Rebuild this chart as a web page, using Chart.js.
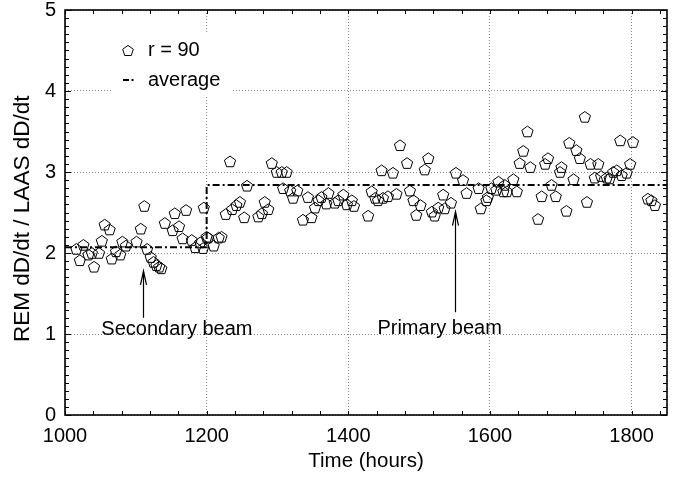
<!DOCTYPE html>
<html>
<head>
<meta charset="utf-8">
<script src="https://cdn.jsdelivr.net/npm/chart.js@4.4.1/dist/chart.umd.min.js"></script>
<style>
  html, body { margin: 0; padding: 0; background: #fff; }
  #wrap { width: 679px; height: 478px; }
</style>
</head>
<body>
<div id="wrap"><canvas id="chart" width="679" height="478"></canvas></div>
<script>
// measured points (time in hours, ratio REM / LAAS)
const timeHours = [
  1016, 1021, 1026, 1033, 1038, 1041, 1048, 1052, 1056, 1063, 1066, 1072, 1078, 1081, 1086,
  1101, 1107, 1112, 1116, 1121, 1125, 1129, 1133, 1136, 1141, 1152, 1155, 1161, 1166, 1171,
  1179, 1184, 1191, 1195, 1196, 1200, 1202, 1210, 1217, 1221, 1227, 1233, 1236, 1242, 1247,
  1253, 1257, 1273, 1278, 1282, 1287, 1292, 1299, 1306, 1313, 1308, 1318, 1322, 1328, 1336,
  1343, 1348, 1353, 1358, 1362, 1369, 1372, 1381, 1386, 1393, 1398, 1405, 1408, 1428, 1433,
  1438, 1442, 1447, 1449, 1456, 1463, 1468, 1473, 1483, 1487, 1492, 1496, 1502, 1508, 1513,
  1518, 1522, 1527, 1534, 1536, 1545, 1552, 1562, 1567, 1584, 1587, 1595, 1597, 1602, 1609,
  1612, 1619, 1621, 1624, 1633, 1638, 1642, 1647, 1653, 1657, 1668, 1673, 1678, 1682, 1687,
  1693, 1699, 1701, 1708, 1712, 1718, 1722, 1727, 1734, 1737, 1742, 1748, 1753, 1757, 1765,
  1769, 1774, 1779, 1784, 1786, 1793, 1798, 1802, 1823, 1828, 1833
];
const ratio = [
  2.05, 1.91, 2.10, 1.98, 2.00, 1.83, 2.00, 2.15, 2.35, 2.29, 1.93, 2.02, 1.98, 2.14, 2.09,
  2.14, 2.30, 2.58, 2.05, 1.95, 1.89, 1.85, 1.83, 1.81, 2.37, 2.28, 2.49, 2.33, 2.18, 2.53,
  2.16, 2.07, 2.13, 2.06, 2.56, 2.20, 2.19, 2.09, 2.19, 2.20, 2.48, 3.13, 2.54, 2.59, 2.63,
  2.44, 2.83, 2.45, 2.49, 2.63, 2.54, 3.11, 3.00, 3.00, 3.00, 2.80, 2.77, 2.68, 2.77, 2.41,
  2.69, 2.44, 2.56, 2.65, 2.69, 2.61, 2.74, 2.62, 2.65, 2.72, 2.60, 2.65, 2.58, 2.46, 2.76,
  2.68, 2.65, 3.02, 2.68, 2.70, 2.99, 2.73, 3.33, 3.11, 2.77, 2.65, 2.47, 2.59, 3.03, 3.17,
  2.51, 2.46, 2.56, 2.72, 2.55, 2.62, 2.99, 2.90, 2.74, 2.80, 2.55, 2.65, 2.69, 2.80, 2.78,
  2.88, 2.76, 2.84, 2.76, 2.91, 2.76, 3.11, 3.26, 3.50, 3.06, 2.42, 2.70, 3.10, 3.17, 2.84,
  2.70, 3.00, 3.06, 2.52, 3.36, 2.91, 3.27, 3.17, 3.68, 2.63, 3.10, 2.93, 3.10, 2.95, 2.93,
  2.92, 3.00, 3.02, 3.39, 2.96, 2.99, 3.10, 3.37, 2.67, 2.65, 2.59
];

// step average
const avgTime = [1000, 1200, 1200, 1850];
const avgRatio = [2.07, 2.07, 2.84, 2.84];

const xTicks = [1000, 1200, 1400, 1600, 1800];
const yTicks = [0, 1, 2, 3, 4, 5];

const FONT = "'Liberation Sans', Arial, sans-serif";

// open pentagon path
function pentagonPath(ctx, cx, cy, r) {
  ctx.moveTo(cx, cy - r);
  for (let i = 1; i < 5; i++) {
    const a = -Math.PI / 2 + i * 2 * Math.PI / 5;
    ctx.lineTo(cx + r * Math.cos(a), cy + r * Math.sin(a));
  }
  ctx.closePath();
}

const notes = [
  { text: 'Secondary beam', tx: 1158, ty: 1.05, ax: 1110, from: 1.2, to: 1.78 },
  { text: 'Primary beam', tx: 1529, ty: 1.07, ax: 1550, from: 1.27, to: 2.51 }
];

const framePlugin = {
  id: 'frame',
  beforeDatasetsDraw(chart) {
    // legend box (covers the grid)
    const { ctx, chartArea: a } = chart;
    ctx.save();
    ctx.fillStyle = '#fff';
    ctx.fillRect(a.left + 47, a.top + 23, 121, 64);
    ctx.strokeStyle = '#000';
    ctx.lineWidth = 1;
    ctx.beginPath();
    pentagonPath(ctx, a.left + 63, a.top + 41, 5.6);
    ctx.stroke();
    ctx.lineWidth = 2;
    ctx.beginPath();
    ctx.moveTo(a.left + 58, a.top + 70); ctx.lineTo(a.left + 64, a.top + 70);
    ctx.moveTo(a.left + 66.5, a.top + 70); ctx.lineTo(a.left + 68.5, a.top + 70);
    ctx.stroke();
    ctx.fillStyle = '#000';
    ctx.font = '20px ' + FONT;
    ctx.textBaseline = 'middle';
    ctx.fillText('r = 90', a.left + 83, a.top + 40);
    ctx.fillText('average', a.left + 83, a.top + 70);
    ctx.restore();
  },
  afterDatasetDraw(chart, args) {
    if (args.index !== 0) return;
    // pentagon markers at the positions the scatter controller computed
    const { ctx } = chart;
    ctx.save();
    ctx.strokeStyle = '#000';
    ctx.lineWidth = 1;
    ctx.lineJoin = 'round';
    args.meta.data.forEach(pt => {
      ctx.beginPath();
      pentagonPath(ctx, pt.x, pt.y + 0.5, 5.9);
      ctx.stroke();
    });
    ctx.restore();
  },
  afterDraw(chart) {
    const { ctx, chartArea: a, scales: { x, y } } = chart;
    ctx.save();
    ctx.strokeStyle = '#000';
    ctx.lineWidth = 1;
    ctx.beginPath();
    for (let v = 1000; v <= 1850; v += 40) {
      const px = Math.round(x.getPixelForValue(v)) + 0.5;
      ctx.moveTo(px, a.bottom); ctx.lineTo(px, a.bottom - 4);
      ctx.moveTo(px, a.top); ctx.lineTo(px, a.top + 4);
    }
    for (let i = 0; i <= 50; i++) {
      const py = Math.round(y.getPixelForValue(i / 10)) + 0.5;
      const len = i % 10 === 0 ? 6 : 4;
      ctx.moveTo(a.left, py); ctx.lineTo(a.left + len, py);
      ctx.moveTo(a.right, py); ctx.lineTo(a.right - len, py);
    }
    ctx.stroke();
    ctx.lineWidth = 1.6;
    ctx.strokeRect(a.left, a.top, a.right - a.left, a.bottom - a.top);

    // annotations
    ctx.lineWidth = 1.2;
    ctx.font = '20px ' + FONT;
    ctx.fillStyle = '#000';
    ctx.textAlign = 'center';
    ctx.textBaseline = 'middle';
    notes.forEach(n => {
      const ax = Math.round(x.getPixelForValue(n.ax)) + 0.5;
      const y0 = y.getPixelForValue(n.from);
      const y1 = y.getPixelForValue(n.to);
      ctx.beginPath();
      ctx.moveTo(ax, y0); ctx.lineTo(ax, y1);
      ctx.moveTo(ax - 3, y1 + 14); ctx.lineTo(ax, y1); ctx.lineTo(ax + 3, y1 + 14);
      ctx.stroke();
      ctx.fillText(n.text, x.getPixelForValue(n.tx), y.getPixelForValue(n.ty));
    });
    ctx.restore();
  }
};

new Chart(document.getElementById('chart'), {
  data: {
    datasets: [
      {
        type: 'scatter',
        label: 'r = 90',
        data: timeHours.map((t, i) => ({ x: t, y: ratio[i] })),
        pointRadius: 0,
        pointHoverRadius: 0
      },
      {
        type: 'line',
        label: 'average',
        data: avgTime.map((t, i) => ({ x: t, y: avgRatio[i] })),
        borderColor: '#000',
        borderWidth: 2,
        borderDash: [7, 3, 2, 3],
        pointRadius: 0,
        fill: false,
        tension: 0
      }
    ]
  },
  options: {
    responsive: false,
    animation: false,
    devicePixelRatio: 1,
    events: [],
    layout: { padding: { top: 10, right: 12, left: 0, bottom: 0 } },
    plugins: { legend: { display: false }, tooltip: { enabled: false } },
    scales: {
      x: {
        type: 'linear',
        min: 1000,
        max: 1850,
        afterBuildTicks: s => { s.ticks = xTicks.map(v => ({ value: v })); },
        afterFit: s => { s.height = 63; s.paddingLeft = 0; s.paddingRight = 0; },
        grid: { color: '#888', lineWidth: 1, drawTicks: false },
        border: { display: false, dash: [1, 2] },
        ticks: { color: '#000', padding: 9, maxRotation: 0, callback: v => String(v), font: { family: FONT, size: 20 } },
        title: { display: true, text: 'Time (hours)', color: '#000', padding: { bottom: 4 }, font: { family: FONT, size: 20.5 } }
      },
      y: {
        min: 0,
        max: 5,
        afterBuildTicks: s => { s.ticks = yTicks.map(v => ({ value: v })); },
        afterFit: s => { s.width = 65; s.paddingTop = 0; s.paddingBottom = 0; },
        grid: { color: '#888', lineWidth: 1, drawTicks: false },
        border: { display: false, dash: [1, 2] },
        ticks: { color: '#000', padding: 9, font: { family: FONT, size: 20 } },
        title: { display: true, text: 'REM dD/dt / LAAS dD/dt  ', color: '#000', padding: { top: 9 }, font: { family: FONT, size: 22.5 } }
      }
    }
  },
  plugins: [framePlugin]
});
</script>
</body>
</html>
